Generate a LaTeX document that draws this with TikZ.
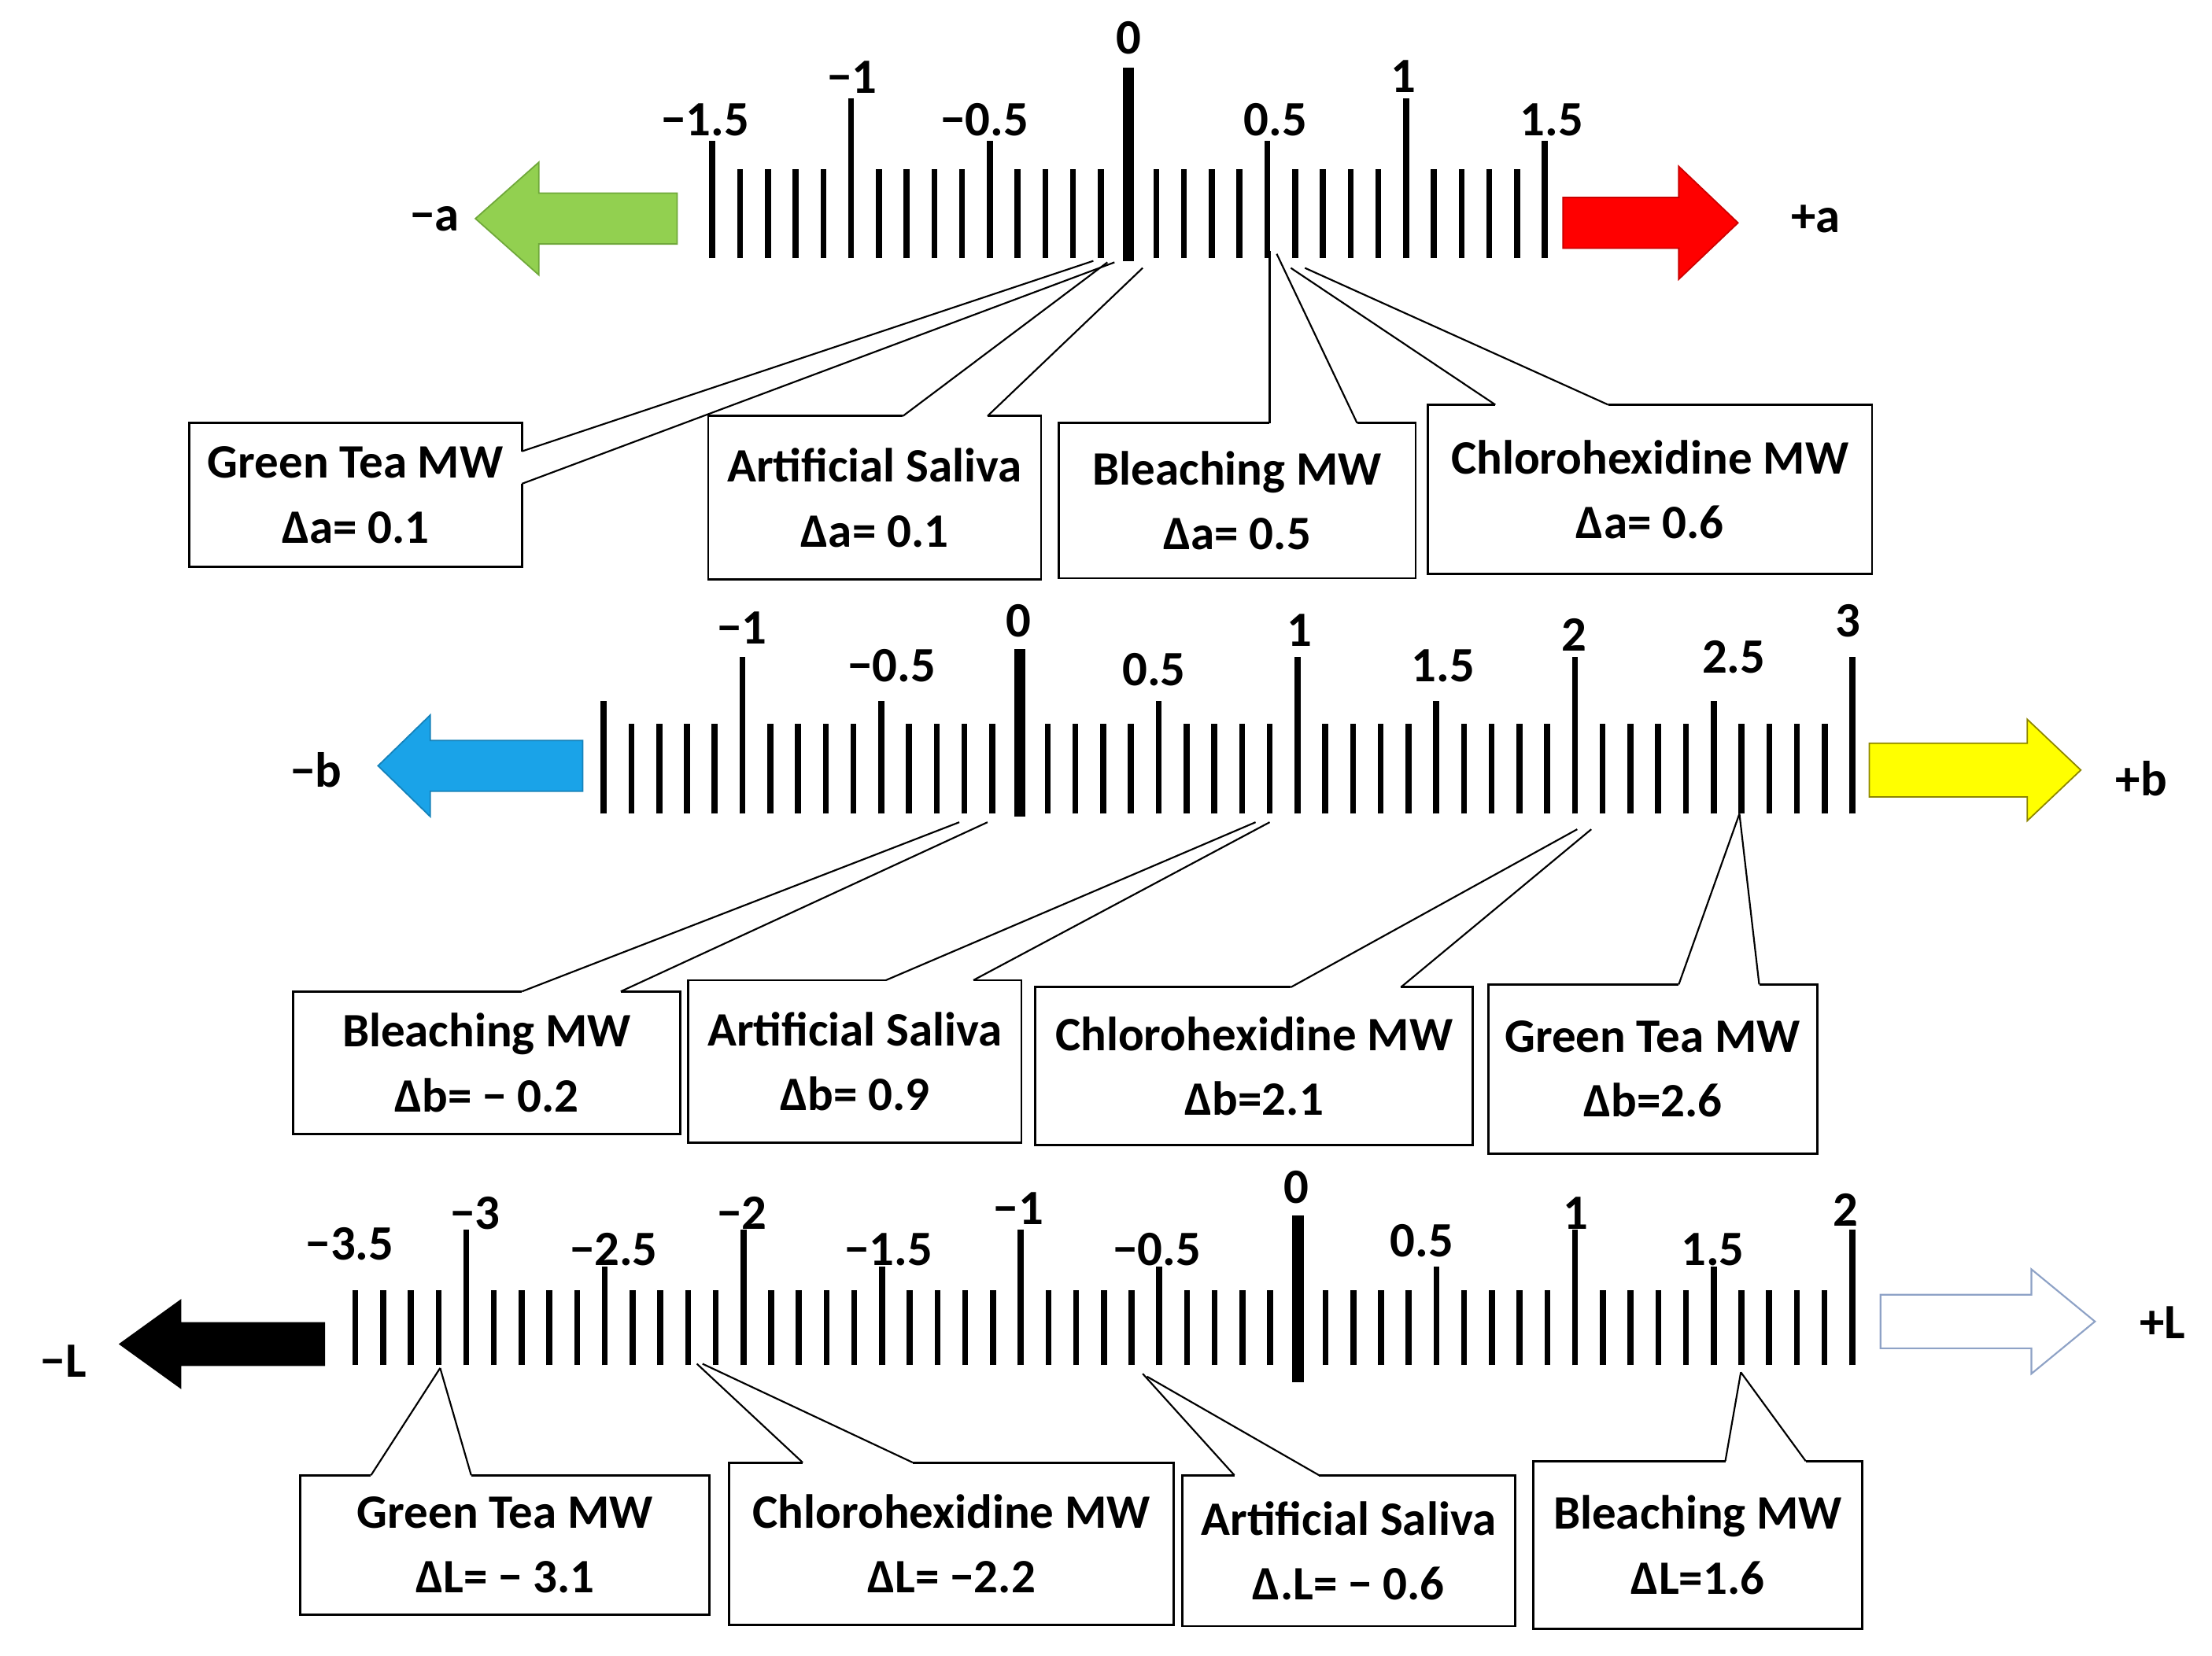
\documentclass[tikz,border=0pt]{standalone}
\usepackage{fontspec}
\setmainfont{Carlito}
\begin{document}
\begin{tikzpicture}[x=1pt,y=-1pt,
  tick/.style={line width=4.2pt},
  zero/.style={line width=8pt},
  lab/.style={font=\fontsize{35}{36}\selectfont\bfseries, inner sep=0pt},
  box/.style={draw, line width=1.6pt, fill=white, align=center, inner sep=0pt,
     font=\fontsize{34}{46}\selectfont\bfseries},
  wedge/.style={line width=1.2pt},
  gap/.style={white, line width=3pt}]
\useasboundingbox (0,0) rectangle (1568,1174);
\definecolor{gr}{HTML}{92D050}\definecolor{grl}{HTML}{6FA83A}
\definecolor{bl}{HTML}{1AA3E8}\definecolor{yl}{HTML}{FFFF00}
\definecolor{wb}{HTML}{8EA2C6}
% ---------- axis a ----------
\foreach \i in {-15,...,15}{\draw[tick] ({800+\i*19.67},183) -- ({800+\i*19.67},120);}
\foreach \i in {-15,-5,5,15}{\draw[tick] ({800+\i*19.67},183) -- ({800+\i*19.67},100);}
\foreach \i in {-10,10}{\draw[tick] ({800+\i*19.67},183) -- ({800+\i*19.67},70);}
\draw[zero] (800,185) -- (800,48);
\node[lab] (a0) at (800,27) {0};
\node[lab] (am1) at (604,55) {−1};
\node[lab] (a1) at (995,54) {1};
\node[lab] (am15) at (500,85) {−1.5};
\node[lab] (am05) at (698,85) {−0.5};
\node[lab] (a05) at (904,85) {0.5};
\node[lab] (a15) at (1100,85) {1.5};
\draw[grl, fill=gr, line width=1pt] (480,137) -- (382,137) -- (382,115) -- (337,155) -- (382,195) -- (382,173) -- (480,173) -- cycle;
\draw[red!80!black, fill=red, line width=1pt] (1108,140) -- (1190,140) -- (1190,118) -- (1232,158) -- (1190,198) -- (1190,176) -- (1108,176) -- cycle;
\node[lab] (ma) at (308,155) {−a};
\node[lab] (pa) at (1287,155) {+a};
% ---------- axis b ----------
\foreach \i in {-15,...,30}{\draw[tick] ({723+\i*19.67},577) -- ({723+\i*19.67},513);}
\foreach \i in {-15,-5,5,15,25}{\draw[tick] ({723+\i*19.67},577) -- ({723+\i*19.67},497);}
\foreach \i in {-10,10,20,30}{\draw[tick] ({723+\i*19.67},577) -- ({723+\i*19.67},466);}
\draw[zero] (723,579) -- (723,460);
\node[lab] (bm1) at (526,445) {−1};
\node[lab] (bm05) at (632,472) {−0.5};
\node[lab] (b0) at (722,440) {0};
\node[lab] (b05) at (818,475) {0.5};
\node[lab] (b1) at (921,447) {1};
\node[lab] (b15) at (1023,472) {1.5};
\node[lab] (b2) at (1116,450) {2};
\node[lab] (b25) at (1229,466) {2.5};
\node[lab] (b3) at (1310,440) {3};
\draw[bl!80!black, fill=bl, line width=1pt] (413,525) -- (305,525) -- (305,507) -- (268,543) -- (305,579) -- (305,561) -- (413,561) -- cycle;
\draw[olive, fill=yl, line width=1pt] (1325,527) -- (1437,527) -- (1437,510) -- (1475,546) -- (1437,582) -- (1437,565) -- (1325,565) -- cycle;
\node[lab] (mb) at (224,546) {−b};
\node[lab] (pb) at (1518,552) {+b};
% ---------- axis L ----------
\foreach \i in {-34,...,20}{\draw[tick] ({920+\i*19.65},968) -- ({920+\i*19.65},915);}
\foreach \i in {-25,-15,-5,5,15}{\draw[tick] ({920+\i*19.65},968) -- ({920+\i*19.65},898);}
\foreach \i in {-30,-20,-10,10,20}{\draw[tick] ({920+\i*19.65},968) -- ({920+\i*19.65},872);}
\draw[zero] (920,980) -- (920,862);
\node[lab] (Lm35) at (248,882) {−3.5};
\node[lab] (Lm3) at (337,860) {−3};
\node[lab] (Lm25) at (435,886) {−2.5};
\node[lab] (Lm2) at (526,860) {−2};
\node[lab] (Lm15) at (630,886) {−1.5};
\node[lab] (Lm1) at (722,857) {−1};
\node[lab] (Lm05) at (820,886) {−0.5};
\node[lab] (L0) at (919,842) {0};
\node[lab] (L05) at (1008,880) {0.5};
\node[lab] (L1) at (1117,860) {1};
\node[lab] (L15) at (1214,886) {1.5};
\node[lab] (L2) at (1308,858) {2};
\draw[black, fill=black, line width=1pt] (230,938) -- (128,938) -- (128,922) -- (85,953) -- (128,984) -- (128,968) -- (230,968) -- cycle;
\draw[wb, fill=white, line width=1.2pt] (1333,918) -- (1440,918) -- (1440,900) -- (1485,937) -- (1440,974) -- (1440,956) -- (1333,956) -- cycle;
\node[lab] (mL) at (45,965) {−L};
\node[lab] (pL) at (1533,938) {+L};
% ---------- callouts a ----------
\node[box, minimum width=236, minimum height=102] (ca1) at (252,351) {Green Tea MW\\Δa= 0.1};
\coordinate (ca1p) at (370,320); \coordinate (ca1q) at (370,343);
\coordinate (ca1t) at (775,185); \coordinate (ca1u) at (790,186);
\draw[gap] (ca1p) -- (ca1q); \draw[wedge] (ca1p) -- (ca1t); \draw[wedge] (ca1q) -- (ca1u);
\node[box, minimum width=236, minimum height=116] (ca2) at (620,353) {Artificial Saliva\\Δa= 0.1};
\coordinate (ca2p) at (640,295); \coordinate (ca2q) at (700,295);
\coordinate (ca2t) at (785,186); \coordinate (ca2u) at (810,190);
\draw[gap] (ca2p) -- (ca2q); \draw[wedge] (ca2p) -- (ca2t); \draw[wedge] (ca2q) -- (ca2u);
\node[box, minimum width=253, minimum height=110] (ca3) at (877,355) {Bleaching MW\\Δa= 0.5};
\coordinate (ca3p) at (900,300); \coordinate (ca3q) at (962,300);
\coordinate (ca3t) at (900,178); \coordinate (ca3u) at (905,180);
\draw[gap] (ca3p) -- (ca3q); \draw[wedge] (ca3p) -- (ca3t); \draw[wedge] (ca3q) -- (ca3u);
\node[box, minimum width=315, minimum height=120] (ca4) at (1169.5,347) {Chlorohexidine MW\\Δa= 0.6};
\coordinate (ca4p) at (1060,287); \coordinate (ca4q) at (1140,287);
\coordinate (ca4t) at (915,190); \coordinate (ca4u) at (925,190);
\draw[gap] (ca4p) -- (ca4q); \draw[wedge] (ca4p) -- (ca4t); \draw[wedge] (ca4q) -- (ca4u);
% ---------- callouts b ----------
\node[box, minimum width=274, minimum height=101] (cb1) at (345,753.5) {Bleaching MW\\Δb= − 0.2};
\coordinate (cb1p) at (370,703); \coordinate (cb1q) at (440,703);
\coordinate (cb1t) at (680,583); \coordinate (cb1u) at (700,583);
\draw[gap] (cb1p) -- (cb1q); \draw[wedge] (cb1p) -- (cb1t); \draw[wedge] (cb1q) -- (cb1u);
\node[box, minimum width=236, minimum height=115] (cb2) at (606,752.5) {Artificial Saliva\\Δb= 0.9};
\coordinate (cb2p) at (628,695); \coordinate (cb2q) at (690,695);
\coordinate (cb2t) at (890,583); \coordinate (cb2u) at (900,583);
\draw[gap] (cb2p) -- (cb2q); \draw[wedge] (cb2p) -- (cb2t); \draw[wedge] (cb2q) -- (cb2u);
\node[box, minimum width=310, minimum height=112] (cb3) at (889,756) {Chlorohexidine MW\\Δb=2.1};
\coordinate (cb3p) at (915,700); \coordinate (cb3q) at (993,700);
\coordinate (cb3t) at (1118,588); \coordinate (cb3u) at (1128,588);
\draw[gap] (cb3p) -- (cb3q); \draw[wedge] (cb3p) -- (cb3t); \draw[wedge] (cb3q) -- (cb3u);
\node[box, minimum width=233, minimum height=120] (cb4) at (1171.5,758) {Green Tea MW\\Δb=2.6};
\coordinate (cb4p) at (1190,698); \coordinate (cb4q) at (1247,698);
\coordinate (cb4t) at (1233,577);
\draw[gap] (cb4p) -- (cb4q); \draw[wedge] (cb4p) -- (cb4t); \draw[wedge] (cb4q) -- (cb4t);
% ---------- callouts L ----------
\node[box, minimum width=290, minimum height=99] (cL1) at (358,1095.5) {Green Tea MW\\ΔL= − 3.1};
\coordinate (cL1p) at (263,1046); \coordinate (cL1q) at (334,1046);
\coordinate (cL1t) at (312,970);
\draw[gap] (cL1p) -- (cL1q); \draw[wedge] (cL1p) -- (cL1t); \draw[wedge] (cL1q) -- (cL1t);
\node[box, minimum width=315, minimum height=115] (cL2) at (674.5,1094.5) {Chlorohexidine MW\\ΔL= −2.2};
\coordinate (cL2p) at (569,1037); \coordinate (cL2q) at (647,1037);
\coordinate (cL2t) at (494,967); \coordinate (cL2u) at (498,967);
\draw[gap] (cL2p) -- (cL2q); \draw[wedge] (cL2p) -- (cL2t); \draw[wedge] (cL2q) -- (cL2u);
\node[box, minimum width=236, minimum height=107] (cL3) at (956,1099.5) {Artificial Saliva\\Δ.L= − 0.6};
\coordinate (cL3p) at (875,1046); \coordinate (cL3q) at (935,1046);
\coordinate (cL3t) at (810,974); \coordinate (cL3u) at (813,976);
\draw[gap] (cL3p) -- (cL3q); \draw[wedge] (cL3p) -- (cL3t); \draw[wedge] (cL3q) -- (cL3u);
\node[box, minimum width=233, minimum height=119] (cL4) at (1203.5,1095.5) {Bleaching MW\\ΔL=1.6};
\coordinate (cL4p) at (1223,1036); \coordinate (cL4q) at (1280,1036);
\coordinate (cL4t) at (1234,973);
\draw[gap] (cL4p) -- (cL4q); \draw[wedge] (cL4p) -- (cL4t); \draw[wedge] (cL4q) -- (cL4t);
\end{tikzpicture}
\end{document}
